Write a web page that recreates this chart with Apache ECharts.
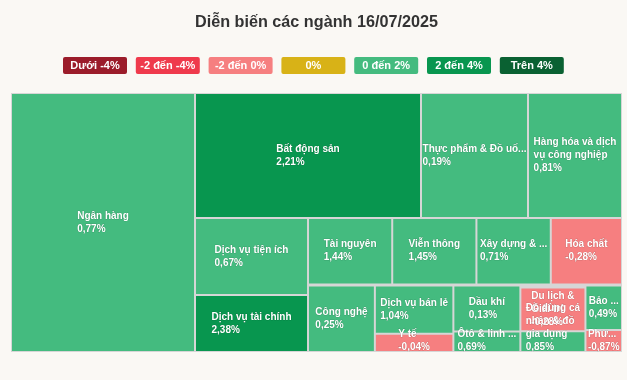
<!DOCTYPE html>
<html>
<head>
<meta charset="utf-8">
<script src="https://cdn.jsdelivr.net/npm/echarts@6/dist/echarts.min.js"></script>
<style>
html,body{margin:0;padding:0;background:#faf8f4;}
#c{width:627px;height:380px;}
</style>
</head>
<body>
<div id="c"></div>
<script>
// ---- data ----
const sectors = ["Ngân hàng","Bất động sản","Thực phẩm & Đồ uống","Hàng hóa và dịch\nvụ công nghiệp","Dịch vụ tiện ích","Dịch vụ tài chính","Tài nguyên","Viễn thông","Xây dựng & Vật liệu","Hóa chất","Công nghệ","Dịch vụ bán lẻ","Dầu khí","Du lịch &\nGiải trí","Bảo hiểm","Y tế","Ôtô & linh kiện","Đồ dùng cá\nnhân & đồ\ngia dụng","Phương tiện truyền thông"];
const sizes = [47656,28250,13375,11750,8701,6441,5640,5640,4980,4770,4480,3820,3110,2960,1640,1440,1380,1400,810];
const changes = [0.77,2.21,0.19,0.81,0.67,2.38,1.44,1.45,0.71,-0.28,0.25,1.04,0.13,-0.28,0.49,-0.04,0.69,0.85,-0.87];
const legendLabels = ["Dưới -4%","-2 đến -4%","-2 đến 0%","0%","0 đến 2%","2 đến 4%","Trên 4%"];
const legendColors = ["#9b1c2a","#ef3a4c","#f67f80","#d8b217","#44bb7f","#08964f","#0a6132"];
// grouping of the sector indices (how the blocks are nested in the treemap)
const grouping = [0, [[[1,2],3], [4, 5, {gap: 1, c: [[[[6,7],8],9], [10, [[[[11,15],[12,16]],{strip: 2, c: [13,17]}],[14,18]]]]}]]];

const FONT_FAMILY = 'Arial, "Liberation Sans", sans-serif';
const LABEL_SIZE = 10, LINE_H = 13;
const SEP = '#d6d6d6';

function colorFor(v){
  if (v <= -4) return legendColors[0];
  if (v <= -2) return legendColors[1];
  if (v < 0) return legendColors[2];
  if (v === 0) return legendColors[3];
  if (v < 2) return legendColors[4];
  if (v < 4) return legendColors[5];
  return legendColors[6];
}
function fmt(v){ return v.toFixed(2).replace('.', ',') + '%'; }

function buildNode(spec, extra){
  if (typeof spec === 'number') {
    const n = sectors[spec];
    const item = { name: n, value: sizes[spec], change: changes[spec],
      itemStyle: { color: colorFor(changes[spec]), borderWidth: 1, borderColor: SEP } };
    if (extra && extra[n]) { item.label = { padding: extra[n].pad }; item.shown = extra[n].text; }
    return item;
  }
  const kids = Array.isArray(spec) ? spec : spec.c;
  const g = { name: '', children: kids.map(k => buildNode(k, extra)),
    itemStyle: { borderWidth: 0, gapWidth: (spec.gap || 0), borderColor: SEP } };
  if (spec.strip) g.upperLabel = { show: true, height: spec.strip, formatter: function(){ return ''; } };
  return g;
}
function buildData(extra){ return grouping.map(s => buildNode(s, extra)); }

const graphics = [];
const boxW = 64, boxH = 17, step = 72.8, x0 = 63, y0 = 57;
legendLabels.forEach((t,i)=>{
  graphics.push({
    type: 'group', left: x0 + i*step, top: y0,
    children: [
      { type:'rect', shape:{x:0,y:0,width:boxW,height:boxH,r:2}, style:{fill:legendColors[i]} },
      { type:'text', x: boxW/2, y: boxH/2, style:{ text:t, fill:'#fff', font:'bold 11px ' + FONT_FAMILY, textAlign:'center', textVerticalAlign:'middle' } }
    ]
  });
});

const tokenStyle = { color:'#fff', fontSize: LABEL_SIZE, fontWeight:'bold', fontFamily: FONT_FAMILY, lineHeight: LINE_H, align:'left', textBorderColor:'rgba(0,0,0,0.25)', textBorderWidth:0.6 };

const chart = echarts.init(document.getElementById('c'), null, {renderer:'canvas'});
chart.setOption({
  backgroundColor: '#faf8f4',
  animation: false,
  title: {
    text: 'Diễn biến các ngành 16/07/2025',
    left: 190, top: 10,
    textStyle: { fontSize: 16.2, fontWeight: 'bold', color: '#333', fontFamily: FONT_FAMILY }
  },
  graphic: graphics,
  series: [{
    type: 'treemap',
    left: 11, top: 93, width: 611, height: 259,
    roam: false, nodeClick: false,
    squareRatio: 2.346,
    sort: false,
    breadcrumb: { show: false },
    itemStyle: { borderWidth: 0, gapWidth: 0, borderColor: SEP },
    label: {
      show: true,
      overflow: 'none',
      padding: 0,
      formatter: function(p){
        const t = p.data.shown != null ? p.data.shown : p.name;
        return '{n|' + t + '}\n{v|' + fmt(p.data.change) + '}';
      },
      rich: { n: tokenStyle, v: tokenStyle }
    },
    upperLabel: { show: false },
    data: buildData(null)
  }]
});

// second pass: truncate long lines and centre each label block (lines left-aligned) in its cell
const ctx = document.createElement('canvas').getContext('2d');
ctx.font = 'bold ' + LABEL_SIZE + 'px ' + FONT_FAMILY;
function fit(line, maxW){
  if (ctx.measureText(line).width <= maxW) return line;
  let k = line.length;
  while (k > 1 && ctx.measureText(line.slice(0, k) + '...').width > maxW) k--;
  return line.slice(0, k) + '...';
}
const tree = chart.getModel().getSeriesByIndex(0).getData().tree;
const extra = {};
tree.root.eachNode(function(node){
  if (node.children && node.children.length) return;
  const i = sectors.indexOf(node.name);
  if (i < 0) return;
  const lay = node.getLayout();
  if (!lay) return;
  const bw = lay.borderWidth || 0;
  const w = lay.width - 2*bw, h = lay.height - 2*bw;
  const nameLines = node.name.split('\n').map(l => fit(l, w - 1));
  const lines = nameLines.concat([fmt(changes[i])]);
  let maxW = 0;
  lines.forEach(l => { maxW = Math.max(maxW, ctx.measureText(l).width); });
  const pl = Math.max(0, (w - maxW) / 2);
  const blockH = lines.length * LINE_H;
  let pt = (h - blockH) / 2;
  if (pt + blockH > h + 3) pt = h + 3 - blockH;
  const pb = h - blockH - pt - 1;
  extra[node.name] = { pad: [pt, 0, pb, pl], text: nameLines.join('\n') };
});
chart.setOption({ series: [{ data: buildData(extra) }] });
</script>
</body>
</html>
